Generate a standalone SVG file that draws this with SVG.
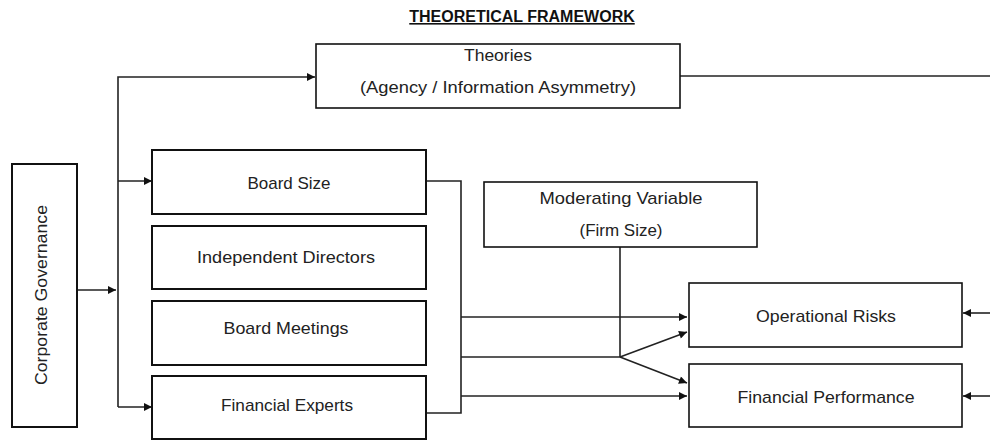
<svg xmlns="http://www.w3.org/2000/svg" width="990" height="440" viewBox="0 0 990 440">
<style>
.box{fill:#fff;stroke:#111;stroke-width:2}
.lbl{font-family:"Liberation Sans",Arial,sans-serif;font-size:17px;fill:#222;text-anchor:middle}
.ttl{font-family:"Liberation Sans",Arial,sans-serif;font-size:16px;font-weight:bold;fill:#111;text-anchor:middle;text-decoration:underline}
.ln{fill:none;stroke:#222;stroke-width:1.6}
</style>
<defs>
<marker id="ah" viewBox="0 0 10 10" refX="10" refY="5" markerWidth="9" markerHeight="8" markerUnits="userSpaceOnUse" orient="auto">
<path d="M0,0 L10,5 L0,10 z" fill="#111"/>
</marker>
</defs>
<rect width="990" height="440" fill="#fff"/>
<text class="ttl" x="522" y="22">THEORETICAL FRAMEWORK</text>

<g id="connectors">
<polyline class="ln" points="118,407 118,77 315,77" marker-end="url(#ah)"/>
<line class="ln" x1="680" y1="76" x2="990" y2="76"/>
<line class="ln" x1="77" y1="290" x2="116" y2="290" marker-end="url(#ah)"/>
<line class="ln" x1="118" y1="181" x2="152" y2="181" marker-end="url(#ah)"/>
<line class="ln" x1="118" y1="407" x2="152" y2="407" marker-end="url(#ah)"/>
<polyline class="ln" points="426,181 461,181 461,413 426,413"/>
<line class="ln" x1="461" y1="317" x2="687" y2="317" marker-end="url(#ah)"/>
<line class="ln" x1="461" y1="357" x2="620" y2="357"/>
<line class="ln" x1="461" y1="396" x2="687" y2="396" marker-end="url(#ah)"/>
<line class="ln" x1="620" y1="247" x2="620" y2="357"/>
<line class="ln" x1="620" y1="357" x2="687" y2="332" marker-end="url(#ah)"/>
<line class="ln" x1="620" y1="357" x2="687" y2="383" marker-end="url(#ah)"/>
<line class="ln" x1="990" y1="313" x2="963" y2="313" marker-end="url(#ah)"/>
<line class="ln" x1="990" y1="396" x2="963" y2="396" marker-end="url(#ah)"/>
</g>

<g id="theories">
<rect class="box" x="316" y="44" width="364" height="64" style="stroke-width:1.6"/>
<text class="lbl" x="498" y="61" textLength="68" lengthAdjust="spacingAndGlyphs">Theories</text>
<text class="lbl" x="498" y="93" textLength="276" lengthAdjust="spacingAndGlyphs">(Agency / Information Asymmetry)</text>
</g>

<g id="corporate-governance">
<rect class="box" x="12" y="164" width="65" height="263"/>
<text class="lbl" transform="translate(47,295) rotate(-90)" textLength="180" lengthAdjust="spacingAndGlyphs">Corporate Governance</text>
</g>

<g id="board-size">
<rect class="box" x="152" y="150" width="274" height="64"/>
<text class="lbl" x="289" y="189" textLength="83" lengthAdjust="spacingAndGlyphs">Board Size</text>
</g>

<g id="independent-directors">
<rect class="box" x="152" y="226" width="274" height="63"/>
<text class="lbl" x="286" y="263" textLength="178" lengthAdjust="spacingAndGlyphs">Independent Directors</text>
</g>

<g id="board-meetings">
<rect class="box" x="152" y="301" width="274" height="64"/>
<text class="lbl" x="286" y="334" textLength="125" lengthAdjust="spacingAndGlyphs">Board Meetings</text>
</g>

<g id="financial-experts">
<rect class="box" x="152" y="376" width="274" height="63"/>
<text class="lbl" x="287" y="411" textLength="132" lengthAdjust="spacingAndGlyphs">Financial Experts</text>
</g>

<g id="moderating-variable">
<rect class="box" x="484" y="182" width="273" height="65" style="stroke-width:1.6"/>
<text class="lbl" x="621" y="204" textLength="163" lengthAdjust="spacingAndGlyphs">Moderating Variable</text>
<text class="lbl" x="621" y="236" textLength="83" lengthAdjust="spacingAndGlyphs">(Firm Size)</text>
</g>

<g id="operational-risks">
<rect class="box" x="689" y="283" width="273" height="64" style="stroke-width:1.6"/>
<text class="lbl" x="826" y="322" textLength="140" lengthAdjust="spacingAndGlyphs">Operational Risks</text>
</g>

<g id="financial-performance">
<rect class="box" x="689" y="364" width="273" height="63" style="stroke-width:1.6"/>
<text class="lbl" x="826" y="403" textLength="177" lengthAdjust="spacingAndGlyphs">Financial Performance</text>
</g>
</svg>
